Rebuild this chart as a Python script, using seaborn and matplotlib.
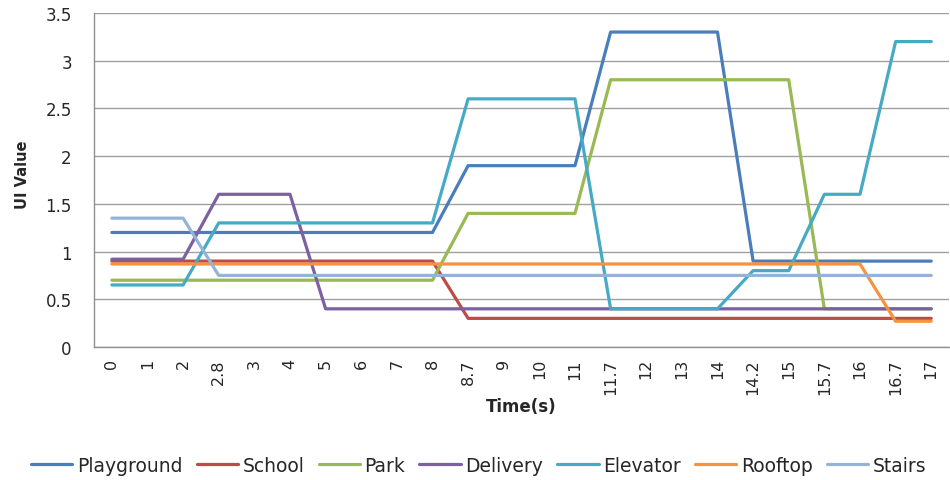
import matplotlib
matplotlib.use('Agg')
import numpy as np
import pandas as pd
import seaborn as sns
import matplotlib.pyplot as plt

# time categories (evenly spaced on the axis, like a category axis)
times = ["0", "1", "2", "2.8", "3", "4", "5", "6", "7", "8", "8.7", "9", "10", "11",
         "11.7", "12", "13", "14", "14.2", "15", "15.7", "16", "16.7", "17"]

playground = [1.2, 1.2, 1.2, 1.2, 1.2, 1.2, 1.2, 1.2, 1.2, 1.2, 1.9, 1.9, 1.9, 1.9,
              3.3, 3.3, 3.3, 3.3, 0.9, 0.9, 0.9, 0.9, 0.9, 0.9]
school = [0.9, 0.9, 0.9, 0.9, 0.9, 0.9, 0.9, 0.9, 0.9, 0.9, 0.3, 0.3, 0.3, 0.3,
          0.3, 0.3, 0.3, 0.3, 0.3, 0.3, 0.3, 0.3, 0.3, 0.3]
park = [0.7, 0.7, 0.7, 0.7, 0.7, 0.7, 0.7, 0.7, 0.7, 0.7, 1.4, 1.4, 1.4, 1.4,
        2.8, 2.8, 2.8, 2.8, 2.8, 2.8, 0.4, 0.4, 0.4, 0.4]
delivery = [0.92, 0.92, 0.92, 1.6, 1.6, 1.6, 0.4, 0.4, 0.4, 0.4, 0.4, 0.4, 0.4, 0.4,
            0.4, 0.4, 0.4, 0.4, 0.4, 0.4, 0.4, 0.4, 0.4, 0.4]
elevator = [0.65, 0.65, 0.65, 1.3, 1.3, 1.3, 1.3, 1.3, 1.3, 1.3, 2.6, 2.6, 2.6, 2.6,
            0.4, 0.4, 0.4, 0.4, 0.8, 0.8, 1.6, 1.6, 3.2, 3.2]
rooftop = [0.87, 0.87, 0.87, 0.87, 0.87, 0.87, 0.87, 0.87, 0.87, 0.87, 0.87, 0.87, 0.87, 0.87,
           0.87, 0.87, 0.87, 0.87, 0.87, 0.87, 0.87, 0.87, 0.27, 0.27]
stairs = [1.35, 1.35, 1.35, 0.75, 0.75, 0.75, 0.75, 0.75, 0.75, 0.75, 0.75, 0.75, 0.75, 0.75,
          0.75, 0.75, 0.75, 0.75, 0.75, 0.75, 0.75, 0.75, 0.75, 0.75]

series = {"Playground": playground, "School": school, "Park": park, "Delivery": delivery,
          "Elevator": elevator, "Rooftop": rooftop, "Stairs": stairs}
colors = ["#4A7EBB", "#BE4B48", "#98B954", "#7D60A0", "#46AAC5", "#F69240", "#95B3D7"]

rows = []
for name, vals in series.items():
    for i, v in enumerate(vals):
        rows.append({"idx": i, "value": v, "series": name})
df = pd.DataFrame(rows)

sns.set_style("white")
plt.rcParams['font.family'] = ['DejaVu Sans']

fig = plt.figure(figsize=(9.5, 4.81), dpi=100)
ax = fig.add_axes([0.099, 0.2765, 0.9, 0.6945])

sns.lineplot(data=df, x="idx", y="value", hue="series", palette=colors,
             linewidth=2.3, ax=ax, legend=False)

ax.set_xlim(-0.5, len(times) - 0.5)
ax.set_ylim(0, 3.5)
ax.set_yticks(np.arange(0, 3.51, 0.5))
ax.set_yticklabels(["0", "0.5", "1", "1.5", "2", "2.5", "3", "3.5"], fontsize=12)
ax.yaxis.grid(True, color="#a0a0a0", linewidth=1)
ax.set_axisbelow(True)

ax.set_xticks(range(len(times)))
ax.set_xticklabels(times, rotation=90, fontsize=11.5)
ax.set_xticks(np.arange(-0.5, len(times), 1), minor=True)
ax.tick_params(axis="x", which="major", length=0, pad=8)
ax.tick_params(axis="x", which="minor", length=4.5, color="#909090", direction="out")
ax.tick_params(axis="y", length=6, color="#a0a0a0", direction="out", pad=10)

for s in ["top", "right"]:
    ax.spines[s].set_visible(False)
for s in ["left", "bottom"]:
    ax.spines[s].set_color("#909090")
    ax.spines[s].set_linewidth(1)

ax.set_xlabel("Time(s)", fontsize=12, fontweight="bold", labelpad=2)
ax.set_ylabel("UI Value", fontsize=10.5, fontweight="bold")
ax.yaxis.set_label_coords(-0.075, 0.52)

handles = [plt.Line2D([0], [0], color=c, linewidth=2.3) for c in colors]
fig.legend(handles, list(series.keys()), loc="center", bbox_to_anchor=(0.504, 0.031),
           ncol=7, frameon=False, fontsize=13.5, handlelength=2.2,
           handletextpad=0.25, columnspacing=0.75)

fig.savefig("out.png", dpi=100)
